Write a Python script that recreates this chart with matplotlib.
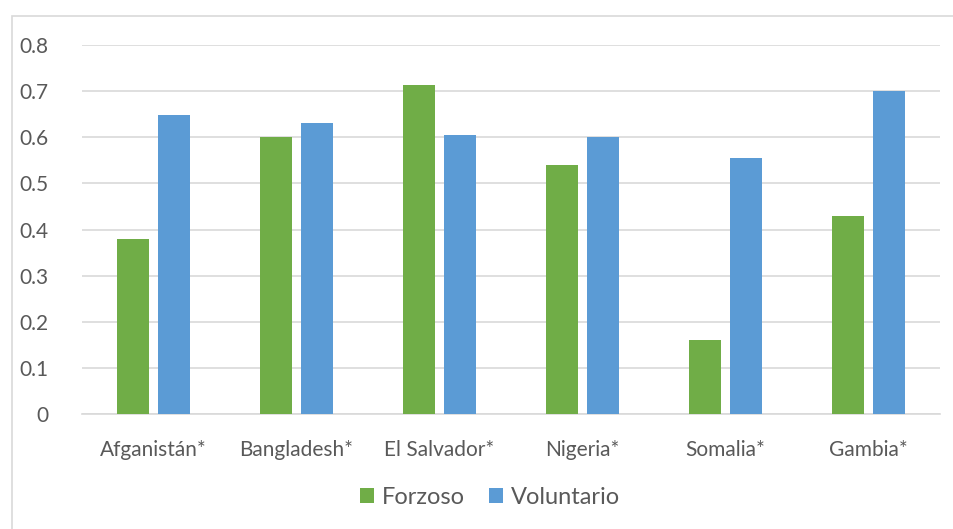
import numpy as np
import matplotlib
matplotlib.use("Agg")
from matplotlib import pyplot as plt
from matplotlib.patches import Rectangle

# data
paises = ["Afganistán*", "Bangladesh*", "El Salvador*", "Nigeria*", "Somalia*", "Gambia*"]
forzoso = [0.38, 0.60, 0.713, 0.54, 0.16, 0.43]
voluntario = [0.648, 0.63, 0.604, 0.60, 0.555, 0.70]
yTicks = [0, 0.1, 0.2, 0.3, 0.4, 0.5, 0.6, 0.7, 0.8]

verde = "#70AD47"
azul = "#5B9BD5"
gris = "#595959"
rejilla = "#D9D9D9"

plt.rcParams['font.family'] = ['Lato', 'DejaVu Sans']

W, H = 954, 529
fig = plt.figure(figsize=(W / 100, H / 100), dpi=100)
ax = fig.add_axes([82 / W, 1 - 414 / H, (940 - 82) / W, (414 - 45) / H])

x = np.arange(len(paises))
ancho = 0.224
sep = 0.063
ax.bar(x - (ancho + sep) / 2, forzoso, ancho, color=verde, label="Forzoso", zorder=3)
ax.bar(x + (ancho + sep) / 2, voluntario, ancho, color=azul, label="Voluntario", zorder=3)

ax.set_xlim(-0.5, len(paises) - 0.5)
ax.set_ylim(0, 0.8)
ax.set_yticks(yTicks)
ax.set_yticklabels(["0" if v == 0 else "%.1f" % v for v in yTicks])
ax.set_xticks(x)
ax.set_xticklabels(paises)
ax.tick_params(axis="both", length=0, labelsize=15, colors=gris)
ax.tick_params(axis="y", pad=24)
ax.tick_params(axis="x", pad=19)
ax.grid(axis="y", color=rejilla, linewidth=1.2, zorder=0)
for s in ["top", "right", "left"]:
    ax.spines[s].set_visible(False)
ax.spines["bottom"].set_color(rejilla)
ax.spines["bottom"].set_linewidth(1.2)

leg = fig.legend(loc="center", bbox_to_anchor=(490 / W, 1 - 497 / H), ncol=2, frameon=False,
                 fontsize=17, handlelength=0.6, handleheight=0.6, handletextpad=0.35,
                 columnspacing=1.0)
for t in leg.get_texts():
    t.set_color(gris)

# chart border
fig.patches.append(Rectangle((12 / W, -0.1), 1.2, 1 - 16 / H + 0.1, transform=fig.transFigure,
                             fill=False, edgecolor=rejilla, linewidth=1.2))

fig.savefig("out.png", dpi=100)
